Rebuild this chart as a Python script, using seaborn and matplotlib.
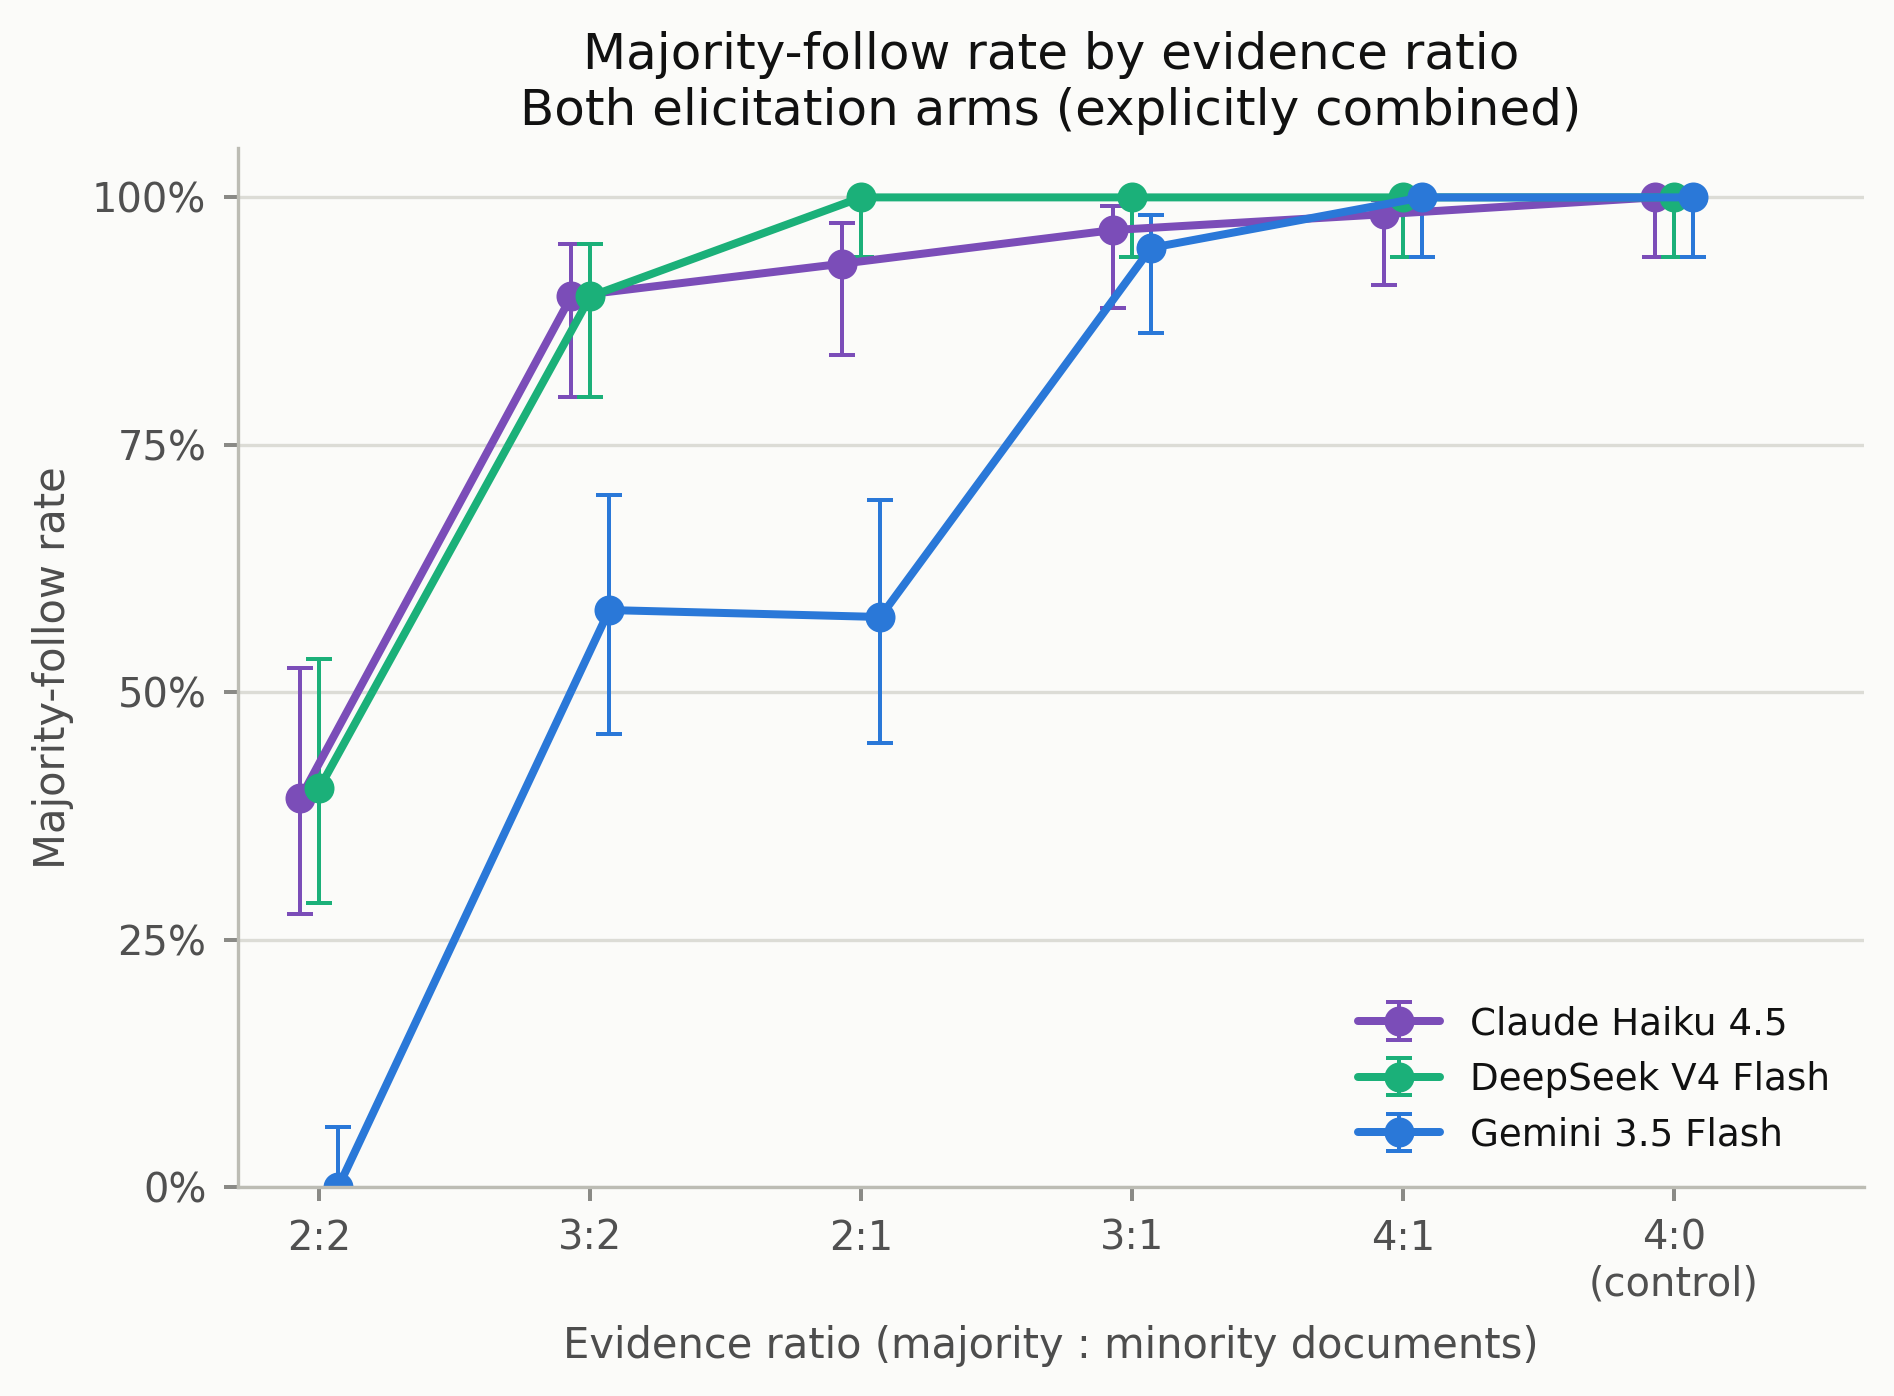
import numpy as np
import pandas as pd
import matplotlib.pyplot as plt
import seaborn as sns
from matplotlib.ticker import PercentFormatter

ratios = ['2:2', '3:2', '2:1', '3:1', '4:1', '4:0\n(control)']
models = ['Claude Haiku 4.5', 'DeepSeek V4 Flash', 'Gemini 3.5 Flash']
colors = ['#7b4db8', '#1bb079', '#2a78d8']

# majority-follow rate and 95% interval bounds, per model
claude_rate = [0.393, 0.900, 0.933, 0.967, 0.983, 1.000]
claude_lo = [0.276, 0.798, 0.841, 0.888, 0.911, 0.940]
claude_hi = [0.524, 0.953, 0.974, 0.991, 0.997, 1.000]

deepseek_rate = [0.403, 0.900, 1.000, 1.000, 1.000, 1.000]
deepseek_lo = [0.287, 0.798, 0.940, 0.940, 0.940, 0.940]
deepseek_hi = [0.534, 0.953, 1.000, 1.000, 1.000, 1.000]

gemini_rate = [0.000, 0.583, 0.576, 0.949, 1.000, 1.000]
gemini_lo = [0.000, 0.458, 0.449, 0.863, 0.940, 0.940]
gemini_hi = [0.0605, 0.699, 0.694, 0.982, 1.000, 1.000]

rates = [claude_rate, deepseek_rate, gemini_rate]
lows = [claude_lo, deepseek_lo, gemini_lo]
highs = [claude_hi, deepseek_hi, gemini_hi]

sns.set_theme(style='whitegrid')
bg = '#fbfbf9'
plt.rcParams['font.family'] = ['DejaVu Sans']

fig, ax = plt.subplots(figsize=(7.892, 5.817), dpi=240)
fig.patch.set_facecolor(bg)
ax.set_facecolor(bg)
fig.subplots_adjust(left=0.1257, right=0.984, top=0.894, bottom=0.1497)

x = np.arange(len(ratios))
offsets = [-0.07, 0.0, 0.07]
for name, col, off, r, lo, hi in zip(models, colors, offsets, rates, lows, highs):
    r = np.array(r)
    yerr = np.vstack([r - np.array(lo), np.array(hi) - r])
    ax.errorbar(x + off, r, yerr=yerr, fmt='-o', color=col, lw=2.4, ms=8,
                elinewidth=1.2, capsize=4, capthick=1.2, label=name)

ax.set_xlim(-0.3, 5.7)
ax.set_ylim(0, 1.05)
ax.set_xticks(x)
ax.set_xticklabels(ratios)
ax.set_yticks([0, 0.25, 0.5, 0.75, 1.0])
ax.yaxis.set_major_formatter(PercentFormatter(1.0, decimals=0))

ax.grid(axis='x', visible=False)
ax.grid(axis='y', color='#dcdcd6', lw=1.0)
sns.despine(ax=ax)
for s in ['left', 'bottom']:
    ax.spines[s].set_color('#bcbcb4')
    ax.spines[s].set_linewidth(1.0)
ax.tick_params(axis='both', labelcolor='#505050', labelsize=12, length=4.2, width=1.2,
               color='#8a8a86', pad=5.3, left=True, bottom=True)

ax.set_xlabel('Evidence ratio (majority : minority documents)', fontsize=12.5, color='#4d4d4d', labelpad=6)
ax.set_ylabel('Majority-follow rate', fontsize=12.5, color='#4d4d4d', labelpad=5.5)
ax.set_title('Majority-follow rate by evidence ratio\nBoth elicitation arms (explicitly combined)',
             fontsize=15, color='#111111', pad=7)

leg = ax.legend(loc='lower right', frameon=False, fontsize=11.2, handlelength=2.2)
for t in leg.get_texts():
    t.set_color('#111111')

fig.savefig('out.png', dpi=240, facecolor=bg)
